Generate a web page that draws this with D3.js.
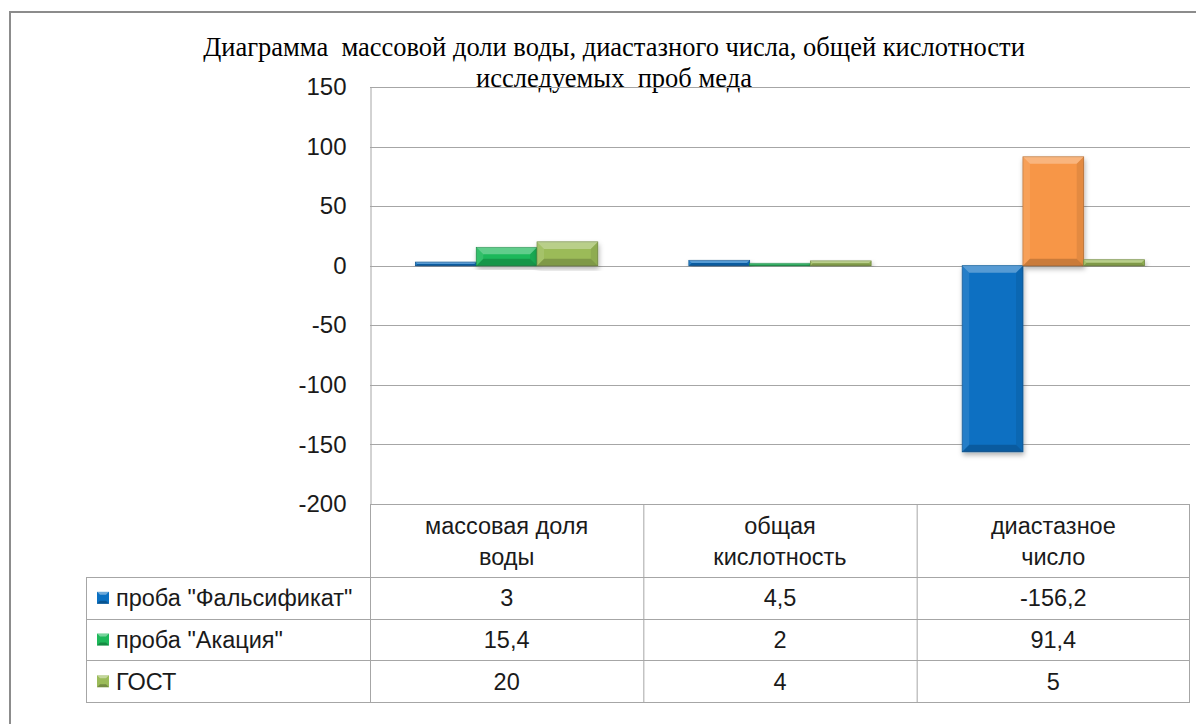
<!DOCTYPE html>
<html>
<head>
<meta charset="utf-8">
<script src="https://cdn.jsdelivr.net/npm/d3@7"></script>
<style>
  html, body { margin: 0; padding: 0; background: #fff; }
  svg { display: block; }
  .title { white-space: pre; }
</style>
</head>
<body>
<svg id="chart" width="1196" height="724"></svg>
<script>
// Categories (two-line labels for the data table header)
const categories = ["массовая доля воды", "общая кислотность", "диастазное число"];
const categoryLines = [["массовая доля", "воды"], ["общая", "кислотность"], ["диастазное", "число"]];

// Series
const seriesNames = ['проба "Фальсификат"', 'проба "Акация"', "ГОСТ"];
const falsifikat = [3, 4.5, -156.2];
const akaciya = [15.4, 2, 91.4];
const gost = [20, 4, 5];
const seriesValues = [falsifikat, akaciya, gost];

// Colours per series, plus one highlighted point (Акация, диастазное число)
const seriesColors = ["#0a70c2", "#1db85a", "#9bbb59"];
const pointColorOverride = { series: 1, category: 2, color: "#f79646" };

// Axis ticks
const yTicks = [-200, -150, -100, -50, 0, 50, 100, 150];

const titleLines = ["Диаграмма  массовой доли воды, диастазного числа, общей кислотности", "исследуемых  проб меда"];

const svg = d3.select("#chart");
const fmt = v => String(v).replace(".", ",");
const sans = "'Liberation Sans', Arial, sans-serif";

const plot = { left: 370, right: 1190, top: 87, bottom: 504 };
const table = { left: 86, headerBottom: 577, rowH: 41.7 };

const y = d3.scaleLinear().domain([-200, 150]).range([plot.bottom, plot.top]);
const x0 = d3.scaleBand().domain(categories).range([plot.left, plot.right]).padding(0);
const x1 = d3.scaleBand().domain(seriesNames).range([0, x0.bandwidth()]).paddingInner(0).paddingOuter(0.75);

const defs = svg.append("defs");
const shadow = defs.append("filter").attr("id", "barShadow")
  .attr("x", "-20%").attr("y", "-20%").attr("width", "140%").attr("height", "140%");
shadow.append("feDropShadow").attr("dx", 1).attr("dy", 3).attr("stdDeviation", 2.5)
  .attr("flood-color", "#000").attr("flood-opacity", 0.3);

// Outer chart frame
svg.append("rect").attr("x", 10).attr("y", 12).attr("width", 1200).attr("height", 740)
  .attr("fill", "#fff").attr("stroke", "#8c8c8c").attr("stroke-width", 2);

// Title
svg.append("g").selectAll("text").data(titleLines).join("text")
  .attr("class", "title")
  .attr("x", 614).attr("y", (d, i) => 56 + i * 31)
  .attr("text-anchor", "middle")
  .attr("font-family", "'Liberation Serif', 'Times New Roman', serif")
  .attr("font-size", 26.5).attr("fill", "#000")
  .text(d => d);

// Gridlines
svg.append("g").selectAll("line").data(yTicks).join("line")
  .attr("x1", plot.left).attr("x2", plot.right)
  .attr("y1", d => Math.round(y(d)) + 0.5).attr("y2", d => Math.round(y(d)) + 0.5)
  .attr("stroke", "#a6a6a6").attr("stroke-width", 1);

// Y axis
const yAxis = svg.append("g").attr("transform", `translate(${plot.left + 0.5},0)`)
  .call(d3.axisLeft(y).tickValues(yTicks).tickFormat(d => String(d)).tickSize(0).tickPadding(24));
yAxis.select(".domain").attr("stroke", "#a6a6a6");
yAxis.selectAll("text")
  .attr("font-family", sans)
  .attr("font-size", 24).attr("fill", "#1a1a1a");

// Bars
const bars = [];
seriesValues.forEach((vals, si) => {
  vals.forEach((v, ci) => {
    let color = seriesColors[si];
    if (pointColorOverride.series === si && pointColorOverride.category === ci) color = pointColorOverride.color;
    bars.push({ si, ci, v, color });
  });
});

const barG = svg.append("g");
bars.forEach(b => {
  const bx = x0(categories[b.ci]) + x1(seriesNames[b.si]);
  const bw = x1.bandwidth();
  const y0 = y(0), yv = y(b.v);
  const top = Math.min(y0, yv), h = Math.max(Math.abs(yv - y0), 1.5);
  const g = barG.append("g");
  const base = d3.color(b.color);
  g.append("rect").attr("x", bx).attr("y", top).attr("width", bw).attr("height", h)
    .attr("fill", b.color).attr("stroke", base.darker(0.8)).attr("stroke-width", 0.8)
    .attr("filter", "url(#barShadow)");
  // bevel edges
  const e = Math.min(7, h / 2, bw / 2);
  if (e >= 1) {
    const L = bx, R = bx + bw, T = top, B = top + h;
    const faces = [
      { pts: [[L, T], [R, T], [R - e, T + e], [L + e, T + e]], fill: "#fff", op: 0.3 },
      { pts: [[L, T], [L + e, T + e], [L + e, B - e], [L, B]], fill: "#fff", op: 0.1 },
      { pts: [[R, T], [R, B], [R - e, B - e], [R - e, T + e]], fill: "#000", op: 0.08 },
      { pts: [[L, B], [L + e, B - e], [R - e, B - e], [R, B]], fill: "#000", op: 0.18 }
    ];
    g.selectAll("polygon").data(faces).join("polygon")
      .attr("points", d => d.pts.map(p => p.join(",")).join(" "))
      .attr("fill", d => d.fill).attr("fill-opacity", d => d.op);
  }
});

// Data table
const tg = svg.append("g");
const lineColor = "#a6a6a6";
const rowsTop = table.headerBottom;
const tableBottom = rowsTop + seriesNames.length * table.rowH;
// header row cells
x0.domain().forEach((c, i) => {
  const cx = x0(c);
  tg.append("line").attr("x1", cx + 0.5).attr("x2", cx + 0.5).attr("y1", plot.bottom).attr("y2", tableBottom).attr("stroke", lineColor);
  tg.selectAll(null).data(categoryLines[i]).join("text")
    .attr("x", cx + x0.bandwidth() / 2).attr("y", (d, k) => 534 + k * 31)
    .attr("text-anchor", "middle")
    .attr("font-family", sans).attr("font-size", 23.5).attr("fill", "#1a1a1a")
    .text(d => d);
});
tg.append("line").attr("x1", plot.right - 0.5).attr("x2", plot.right - 0.5).attr("y1", plot.bottom).attr("y2", tableBottom).attr("stroke", lineColor);
tg.append("line").attr("x1", table.left + 0.5).attr("x2", table.left + 0.5).attr("y1", rowsTop).attr("y2", tableBottom).attr("stroke", lineColor);
d3.range(seriesNames.length + 1).forEach(k => {
  const ly = Math.round(rowsTop + k * table.rowH) + 0.5;
  tg.append("line").attr("x1", table.left).attr("x2", plot.right).attr("y1", ly).attr("y2", ly).attr("stroke", lineColor);
});

seriesNames.forEach((s, si) => {
  const cy = rowsTop + si * table.rowH + table.rowH / 2;
  const key = tg.append("g").attr("transform", `translate(97,${cy - 6})`);
  key.append("rect").attr("width", 12).attr("height", 12).attr("fill", seriesColors[si]);
  key.append("polygon").attr("points", "0,0 12,0 9,3 3,3").attr("fill", "#fff").attr("fill-opacity", 0.4);
  key.append("polygon").attr("points", "0,12 12,12 9,9 3,9").attr("fill", "#000").attr("fill-opacity", 0.25);
  tg.append("text").attr("x", 116).attr("y", cy + 8.5)
    .attr("font-family", sans).attr("font-size", 23.5).attr("fill", "#1a1a1a")
    .text(s);
  seriesValues[si].forEach((v, ci) => {
    tg.append("text").attr("x", x0(categories[ci]) + x0.bandwidth() / 2).attr("y", cy + 8.5)
      .attr("text-anchor", "middle")
      .attr("font-family", sans).attr("font-size", 23.5).attr("fill", "#1a1a1a")
      .text(fmt(v));
  });
});
</script>
</body>
</html>
